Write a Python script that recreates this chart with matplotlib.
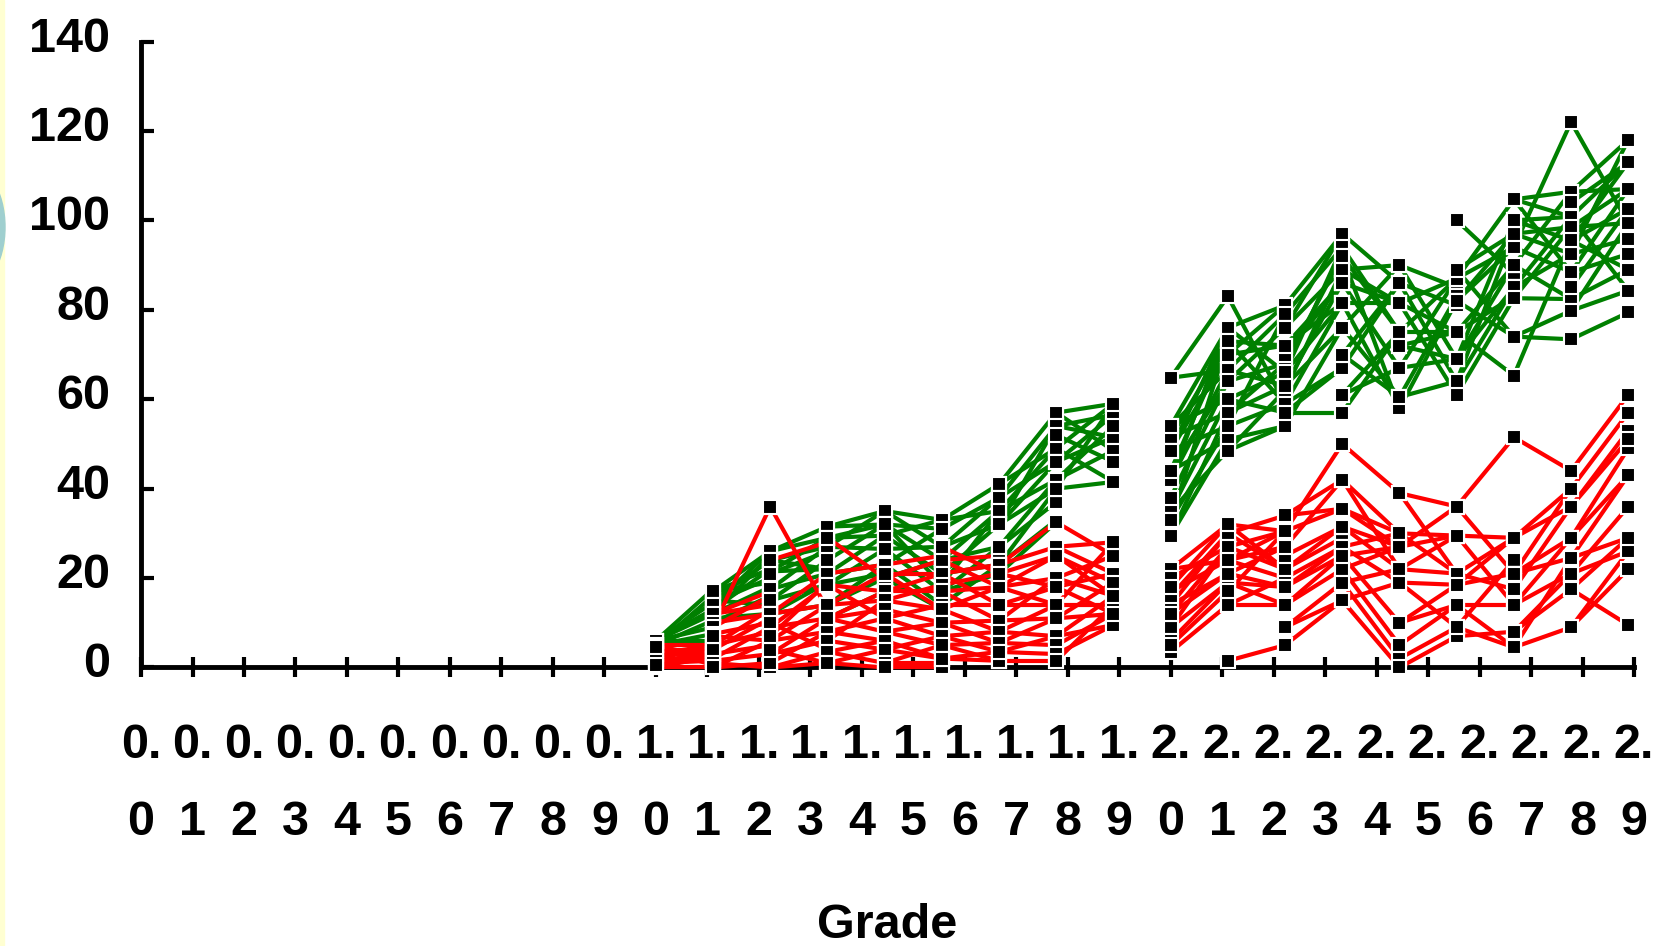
import numpy as np
import matplotlib.pyplot as plt
import matplotlib.transforms as mtransforms
from matplotlib.patches import Rectangle, Ellipse

plt.rcParams['font.family'] = ['Liberation Sans', 'DejaVu Sans']

# x axis: grade 0.0 ... 2.9, labels wrapped onto two rows
grade_ticks = [i / 10 for i in range(30)]
grade_labels = [f'{i // 10}.\n{i % 10}' for i in range(30)]
y_ticks = [0, 20, 40, 60, 80, 100, 120, 140]

# each pair = (score at month m, score at month m+1); months are ninths of a grade
# grade 1
green_1_0 = [(6, 17.5), (6, 14.5), (6, 12), (6, 9), (5, 7.5), (5, 16), (6, 13), (5, 10.5), (6, 6)]
red_1_0 = [(0, 0), (1, 1.5), (2, 2), (3, 3), (4, 4), (5, 5), (0, 2.5), (2, 4.5), (4, 1), (1, 3.5),
           (3, 5), (5, 2), (0.5, 4.5), (4.5, 0.5)]
green_1_1 = [(17, 26), (17, 22), (15, 24), (14.5, 20), (12, 18), (12, 25), (10, 16), (15, 14), (13, 22),
             (17, 19), (11, 12), (14, 26)]
red_1_1 = [(9, 36), (12, 17), (12, 14), (10, 12), (9, 16), (7.5, 10), (5, 8), (5, 13), (3, 5), (1.5, 3),
           (0, 1), (2, 9), (4, 11), (7, 6), (1, 0), (0, 6)]
green_1_2 = [(26, 29), (26, 31.5), (24, 27), (21.5, 29), (21.5, 22), (17.5, 21), (17.5, 27), (15, 18.5),
             (12, 19), (24, 22), (15, 24), (12, 14), (21, 26)]
red_1_2 = [(36, 13), (24, 28), (12, 21), (12, 14), (9, 18.5), (9, 11), (6, 8), (6, 14), (3, 6), (3, 11),
           (0, 1), (0, 3.5), (1, 8), (4, 1), (10, 4), (7, 19)]
green_1_3 = [(31.5, 35), (31.5, 32), (29, 29.5), (29, 32), (27, 26.5), (27, 35), (21, 23), (21, 29.5),
             (18.5, 21), (18.5, 26.5), (14, 20), (14, 23), (11, 17), (24, 32)]
red_1_3 = [(29, 20), (21, 23), (18.5, 17), (14, 15), (14, 21), (11, 13), (11, 8), (8, 11), (8, 6), (6, 4),
           (6, 15), (3.5, 1), (3.5, 6), (1, 0), (1, 4), (18.5, 11), (11, 17)]
green_1_4 = [(35, 33), (35, 27), (32, 31), (32, 24), (29.5, 21), (29.5, 33), (26.5, 27), (26.5, 17),
             (23, 14), (23, 31), (20, 24), (20, 13), (32, 18.5)]
red_1_4 = [(23, 25), (21, 21), (20, 24), (17, 17), (17, 21), (15, 13), (15, 18.5), (13, 10), (11, 14),
           (11, 7), (8, 10), (8, 5), (6, 2), (4, 7), (4, 2), (1, 5), (1, 1), (0, 0), (21, 13)]
green_1_5 = [(33, 41), (33, 35), (27, 38), (27, 32), (24, 35), (24, 27), (21, 32), (21, 23), (17, 27),
             (17, 21), (14, 23), (31, 38), (18.5, 35)]
red_1_5 = [(24, 25), (24, 18), (21, 23), (21, 14), (18.5, 21), (17, 18), (17, 10.5), (14, 14), (13, 8),
           (13, 18), (10, 10.5), (10, 5.5), (7, 8), (7, 3.5), (5, 5.5), (5, 1.5), (2, 3.5), (2, 1.5), (27, 21)]
green_1_6 = [(41, 57), (41, 49), (38, 54), (38, 46), (35, 49), (35, 42), (32, 46), (32, 40), (27, 42),
             (27, 37), (23, 40), (23, 33), (21, 32.5), (32, 54)]
red_1_6 = [(23, 27), (23, 32.5), (21, 25), (18, 20), (18, 25), (14, 18), (14, 14), (10.5, 11), (10.5, 20),
           (8, 7), (8, 14), (5.5, 5), (5.5, 11), (3.5, 3), (1.5, 1.5), (3.5, 7), (18, 14), (21, 18)]
green_1_7 = [(57, 48.5), (57, 59), (54, 51.5), (54, 56.5), (49, 59), (49, 41.5), (46, 51.5), (46, 56.5),
             (42, 48.5), (42, 54), (40, 59), (40, 41.5), (52, 46)]
red_1_7 = [(32.5, 25), (27, 28), (27, 21), (25, 19), (20, 25), (20, 16), (18, 21), (14, 14), (14, 28),
           (11, 19), (11, 12), (7, 16), (7, 9.5), (5, 12), (3, 9.5), (1.5, 14), (18, 12), (25, 16)]
# grade 2
green_2_0 = [(64.8, 83), (64.8, 66.5), (54, 76), (54, 60), (51.5, 73), (51.5, 57), (48.5, 70), (48.5, 54),
             (44, 64), (44, 51), (42, 66.5), (35, 60), (35, 48.5), (29.5, 57), (29.5, 51), (33, 73), (42, 76),
             (48.5, 76), (54, 66.5), (38, 64), (44, 73), (33, 54)]
red_2_0 = [(22, 32), (22, 24), (14, 30), (14, 21), (9, 27), (9, 19), (3.5, 14), (17, 24), (12, 21), (20, 27),
           (6, 19), (16, 30), (5, 17), (12, 27), (18, 32)]
green_2_1 = [(83, 59), (76, 66), (76, 81), (73, 59), (70, 72), (66.5, 63), (64, 76), (60, 57), (57, 68),
             (54, 79), (51, 54), (48.5, 62), (48.5, 54), (70, 81), (60, 66), (66.5, 79), (73, 72), (57, 63),
             (54, 59), (64, 68)]
red_2_1 = [(32, 30.5), (30, 34), (27, 22), (24, 30.5), (21, 18), (19, 14), (14, 20), (1.5, 5), (30, 22),
           (24, 27), (19, 18), (27, 30.5), (14, 14), (21, 27), (32, 22), (17, 30.5), (24, 20)]
green_2_2 = [(81, 97), (79, 94), (76, 89), (72, 86), (68, 92), (66, 81.5), (63, 76), (59, 67), (57, 57),
             (54, 76), (62, 89), (70, 86), (59, 81.5), (66, 94), (76, 97), (63, 86), (72, 81.5), (57, 67)]
red_2_2 = [(30.5, 50), (34, 42), (30.5, 35.5), (22, 31.5), (20, 27), (18, 25), (14, 22), (9, 19), (5, 15),
           (22, 29), (14, 25), (34, 35.5), (9, 15), (18, 27), (25, 31.5), (27, 42)]
green_2_3 = [(97, 86), (94, 75), (89, 90), (86, 67), (81.5, 81.5), (76, 60.5), (67, 86), (57, 75), (92, 58),
             (76, 90), (61, 67), (70, 60.5), (89, 81.5), (81.5, 58), (92, 75), (86, 81.5), (70, 86), (61, 75)]
red_2_3 = [(50, 39), (42, 30), (35.5, 27), (31.5, 22), (27, 19), (25, 10), (22, 5), (19, 2), (15, 0),
           (27, 30), (22, 27), (15, 19), (35.5, 30), (19, 22), (25, 27), (31.5, 27), (42, 22)]
green_2_4 = [(90, 85), (86, 81), (81.5, 87), (75, 75), (67, 69), (60.5, 83), (58, 82), (81.5, 61), (72, 75),
             (90, 69), (86, 64), (67, 87), (60.5, 64), (75, 87), (81.5, 75), (72, 69)]
red_2_4 = [(39, 36), (30, 29.5), (27, 29.5), (22, 21), (19, 18.5), (10, 18.5), (5, 14), (2, 9), (0, 7),
           (30, 21), (22, 29.5), (27, 36), (10, 14), (19, 9), (39, 21)]
green_2_5 = [(100, 88), (89, 97), (87, 104.7), (82, 94), (75, 90), (69, 100), (64, 85), (61, 82.6),
             (75, 65.3), (82, 74), (69, 90), (87, 94), (64, 97), (89, 74), (82, 97), (75, 83), (69, 85)]
red_2_5 = [(36, 51.5), (29.5, 29), (21, 29), (18.5, 21), (14, 14), (9, 24), (7, 8), (36, 21), (29.5, 14),
           (14, 4.5), (21, 17.5), (9, 4.5), (18.5, 29)]
green_2_6 = [(94, 122), (65.3, 95.5), (104.7, 106.4), (100, 100.8), (97, 98.5), (94, 88.4), (85, 92.5),
             (82.6, 82.4), (74, 79.8), (104.7, 88.4), (90, 106.4), (74, 73.4), (85, 100.8), (90, 82.4),
             (97, 92.5), (100, 95.5), (82.6, 98.5), (104.7, 100.8)]
red_2_6 = [(51.5, 44), (29, 40), (29, 36), (21, 29), (21, 24.5), (14, 21), (8, 17.5), (4.5, 9), (14, 29),
           (8, 21), (4.5, 24.5), (17.5, 36), (21, 40)]
green_2_7 = [(122, 99.4), (106.4, 118), (100.8, 113), (98.5, 107), (95.5, 102.6), (92.5, 95.8), (88.4, 92.5),
             (82.4, 89), (79.8, 84.3), (73.4, 79.4), (95.5, 113), (88.4, 107), (79.8, 99.4), (100.8, 84.3),
             (92.5, 118), (106.4, 107), (98.5, 99.4), (95.5, 89), (85, 102.6), (104, 113)]
red_2_7 = [(44, 61), (40, 57), (36, 53), (29, 49), (24.5, 43), (21, 36), (17.5, 29), (9, 22), (21, 26),
           (17.5, 9.5), (9, 26), (36, 51), (29, 43), (24.5, 29)]

intervals = [
    (1, 0, green_1_0, red_1_0), (1, 1, green_1_1, red_1_1), (1, 2, green_1_2, red_1_2),
    (1, 3, green_1_3, red_1_3), (1, 4, green_1_4, red_1_4), (1, 5, green_1_5, red_1_5),
    (1, 6, green_1_6, red_1_6), (1, 7, green_1_7, red_1_7),
    (2, 0, green_2_0, red_2_0), (2, 1, green_2_1, red_2_1), (2, 2, green_2_2, red_2_2),
    (2, 3, green_2_3, red_2_3), (2, 4, green_2_4, red_2_4), (2, 5, green_2_5, red_2_5),
    (2, 6, green_2_6, red_2_6), (2, 7, green_2_7, red_2_7),
]

fig = plt.figure(figsize=(16.67, 9.46), dpi=100, facecolor='white')
# slide background remnants on the left edge
fig.patches.append(Rectangle((0, 0), 0.0022, 1, transform=fig.transFigure, color='#ffffd2', zorder=0))
fig.patches.append(Ellipse((-0.022, 0.76), 0.05, 0.14, transform=fig.transFigure, color='#9fcfcf', zorder=0))

ax = fig.add_axes([0.0846, 0.2944, 0.8956, 0.6617])
ax.set_facecolor('none')

mx, my = [], []
for grade, month, greens, reds in intervals:
    x0 = grade + month / 9
    x1 = grade + (month + 1) / 9
    for segs, col in ((greens, '#008000'), (reds, '#ff0000')):
        seg = np.array(segs).T
        n = seg.shape[1]
        ax.plot(np.array([[x0] * n, [x1] * n]), seg, color=col, lw=3.0,
                solid_capstyle='butt', clip_on=False, zorder=3)
        mx += [x0] * n + [x1] * n
        my += list(seg[0]) + list(seg[1])

ax.plot(mx, my, 's', color='black', ms=10, mec='white', mew=1.5, clip_on=False, zorder=5)

ax.set_xlim(0, 2.9)
ax.set_ylim(0, 140)
ax.set_xticks(grade_ticks)
ax.set_xticklabels(grade_labels, fontsize=35, fontweight='bold', linespacing=1.9)
ax.set_yticks(y_ticks)
ax.set_yticklabels([str(v) for v in y_ticks], fontsize=35, fontweight='bold')
ax.tick_params(axis='x', direction='inout', length=14, width=3, pad=33)
ax.tick_params(axis='y', direction='in', length=9, width=3, pad=22)
off = mtransforms.ScaledTranslation(0, 0.075, fig.dpi_scale_trans)
for lab in ax.get_yticklabels():
    lab.set_transform(lab.get_transform() + off)

for s in ('top', 'right'):
    ax.spines[s].set_visible(False)
for s in ('left', 'bottom'):
    ax.spines[s].set_linewidth(3.5)

ax.set_xlabel('Grade', fontsize=35, fontweight='bold')
ax.xaxis.set_label_coords(0.5, -0.376)

fig.savefig('out.png', dpi=100, facecolor='white')
